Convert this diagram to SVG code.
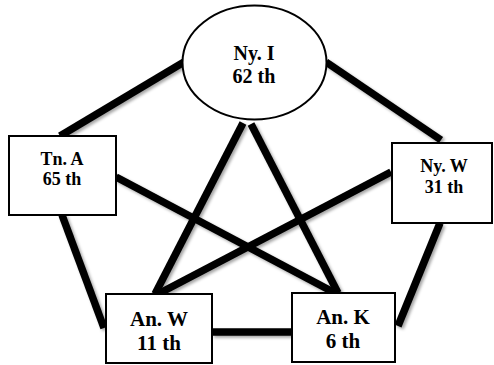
<svg xmlns="http://www.w3.org/2000/svg" width="494" height="365" viewBox="0 0 494 365">
  <defs>
    <filter id="shadow" x="-20%" y="-20%" width="140%" height="140%">
      <feDropShadow dx="2" dy="2" stdDeviation="1.6" flood-color="#000" flood-opacity="0.35"/>
    </filter>
  </defs>
  <style>
    .edge { stroke: #000; stroke-width: 7.5; fill: none; stroke-linecap: butt; }
    .node { fill: #fff; stroke: #000; stroke-width: 2; }
    .lbl { font-family: "Liberation Serif", "Times New Roman", serif; font-weight: bold; fill: #000; text-anchor: middle; }
  </style>
  <rect width="494" height="365" fill="#fff"/>

  <g id="connectors" filter="url(#shadow)">
    <line class="edge" x1="184" y1="62" x2="60" y2="136"/>
    <line class="edge" x1="326" y1="62" x2="441" y2="140"/>
    <line class="edge" x1="243" y1="123" x2="155" y2="294"/>
    <line class="edge" x1="251" y1="124" x2="338" y2="293"/>
    <line class="edge" x1="116" y1="177" x2="335" y2="293"/>
    <line class="edge" x1="391" y1="172" x2="158" y2="294"/>
    <line class="edge" x1="62" y1="215" x2="104" y2="328"/>
    <line class="edge" x1="440" y1="223" x2="398" y2="326"/>
    <line class="edge" x1="212" y1="332" x2="291" y2="332"/>
  </g>

  <g id="node-ny-i">
    <ellipse class="node" cx="254.5" cy="62.5" rx="72" ry="57"/>
    <text class="lbl" x="254" y="60" font-size="20">Ny. I</text>
    <text class="lbl" x="254" y="83" font-size="20">62 th</text>
  </g>

  <g id="node-tn-a">
    <rect class="node" x="9" y="136" width="107" height="79"/>
    <text class="lbl" x="62" y="165" font-size="18">Tn. A</text>
    <text class="lbl" x="62" y="185" font-size="18">65 th</text>
  </g>

  <g id="node-ny-w">
    <rect class="node" x="392" y="143" width="100" height="80"/>
    <text class="lbl" x="444" y="172" font-size="18">Ny. W</text>
    <text class="lbl" x="444" y="193" font-size="18">31 th</text>
  </g>

  <g id="node-an-w">
    <rect class="node" x="106" y="294" width="106" height="69"/>
    <text class="lbl" x="159" y="326" font-size="21">An. W</text>
    <text class="lbl" x="159" y="350" font-size="21">11 th</text>
  </g>

  <g id="node-an-k">
    <rect class="node" x="292" y="293" width="103" height="69"/>
    <text class="lbl" x="343" y="324" font-size="21">An. K</text>
    <text class="lbl" x="343" y="348" font-size="21">6 th</text>
  </g>
</svg>
